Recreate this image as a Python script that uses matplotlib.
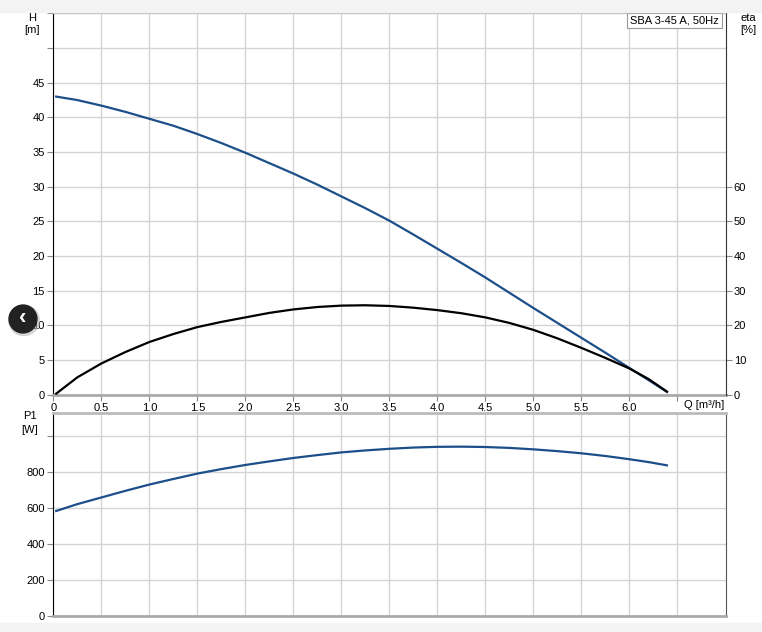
import matplotlib
matplotlib.use("Agg")
import matplotlib.pyplot as plt
from matplotlib.patches import Rectangle, Circle

plt.rcParams["font.family"] = ["Liberation Sans", "DejaVu Sans"]
plt.rcParams["font.size"] = 8

# pump curves SBA 3-45 A, 50Hz
q = [0.03, 0.25, 0.5, 0.75, 1.0, 1.25, 1.5, 1.75, 2.0, 2.25, 2.5, 2.75, 3.0, 3.25,
     3.5, 3.75, 4.0, 4.25, 4.5, 4.75, 5.0, 5.25, 5.5, 5.75, 6.0, 6.2, 6.39]
head = [43.0, 42.5, 41.7, 40.8, 39.8, 38.8, 37.6, 36.3, 34.9, 33.4, 31.9, 30.3, 28.6, 26.9,
        25.1, 23.1, 21.05, 19.0, 16.9, 14.7, 12.5, 10.35, 8.2, 6.05, 3.85, 2.1, 0.4]
eta = [0.3, 5.0, 9.0, 12.3, 15.2, 17.5, 19.5, 21.0, 22.3, 23.6, 24.6, 25.3, 25.7, 25.8,
       25.6, 25.1, 24.4, 23.5, 22.3, 20.7, 18.7, 16.25, 13.5, 10.6, 7.55, 4.5, 0.9]
p1 = [583, 621, 658, 695, 730, 761, 791, 816, 839, 859, 878, 894, 909, 920,
      929, 936, 940, 941, 939, 934, 926, 916, 904, 889, 871, 855, 837]

q_ticks = [0, 0.5, 1.0, 1.5, 2.0, 2.5, 3.0, 3.5, 4.0, 4.5, 5.0, 5.5, 6.0, 6.5]
q_labels = ["0", "0.5", "1.0", "1.5", "2.0", "2.5", "3.0", "3.5", "4.0", "4.5", "5.0", "5.5", "6.0", ""]
h_ticks = [0, 5, 10, 15, 20, 25, 30, 35, 40, 45, 50, 55]
h_labels = ["0", "5", "10", "15", "20", "25", "30", "35", "40", "45", "", ""]
eta_ticks = [0, 10, 20, 30, 40, 50, 60]
p_ticks = [0, 200, 400, 600, 800, 1000]
p_labels = ["0", "200", "400", "600", "800", ""]

W, H = 762, 632
blue = "#1c4f8a"
grid_c = "#d4d4d4"
tick_c = "#888888"

fig = plt.figure(figsize=(W / 100, H / 100), dpi=100)
fig.patch.set_facecolor("white")

# page strips
fig.patches.append(Rectangle((0, 1 - 12 / H), 1, 12 / H, transform=fig.transFigure,
                             color="#f3f3f3", zorder=0))
fig.patches.append(Rectangle((0, 0), 1, 9 / H, transform=fig.transFigure,
                             color="#f3f3f3", zorder=0))


def box(x0, y0, x1, y1):
    return [x0 / W, 1 - y1 / H, (x1 - x0) / W, (y1 - y0) / H]


ax = fig.add_axes(box(53.3, 13.4, 725.5, 394.7))
ax.plot(q, head, color=blue, lw=1.6, zorder=3)
ax.set_xlim(0, 7)
ax.set_ylim(0, 55)
ax.set_xticks(q_ticks)
ax.set_xticklabels(q_labels)
ax.set_yticks(h_ticks)
ax.set_yticklabels(h_labels)
ax.grid(True, color=grid_c, lw=1)
ax.tick_params(length=4, color=tick_c, labelsize=8, pad=2)
ax.spines["left"].set_color("black")
ax.spines["bottom"].set_color("#aaaaaa")
ax.spines["bottom"].set_linewidth(2)
ax.spines["top"].set_color("#bbbbbb")
ax.spines["right"].set_visible(False)

ax2 = ax.twinx()
ax2.plot(q, eta, color="black", lw=1.6, zorder=3)
ax2.set_ylim(0, 110)
ax2.set_yticks(eta_ticks)
ax2.tick_params(length=4, color=tick_c, labelsize=8, pad=2)
for s in ["left", "top", "bottom"]:
    ax2.spines[s].set_visible(False)
ax2.spines["right"].set_color("#333333")

ax.text(0.99, 0.995, "SBA 3-45 A, 50Hz", transform=ax.transAxes, ha="right", va="top",
        fontsize=8, zorder=5,
        bbox=dict(boxstyle="square,pad=0.25", fc="white", ec="#999999", lw=0.8))

fig.text(32 / W, 1 - 18 / H, "H", ha="center", va="center", fontsize=8)
fig.text(32 / W, 1 - 30 / H, "[m]", ha="center", va="center", fontsize=8)
fig.text(748 / W, 1 - 18 / H, "eta", ha="center", va="center", fontsize=8)
fig.text(748 / W, 1 - 30 / H, "[%]", ha="center", va="center", fontsize=8)
fig.text(704 / W, 1 - 405 / H, "Q [m³/h]", ha="center", va="center", fontsize=8)

bx = fig.add_axes(box(53.3, 412.7, 725.5, 615.7))
bx.plot(q, p1, color=blue, lw=1.6, zorder=3)
bx.set_xlim(0, 7)
bx.set_ylim(0, 1130)
bx.set_xticks(q_ticks)
bx.set_xticklabels([])
bx.set_yticks(p_ticks)
bx.set_yticklabels(p_labels)
bx.grid(True, color=grid_c, lw=1)
bx.tick_params(axis="y", length=4, color=tick_c, labelsize=8, pad=2)
bx.tick_params(axis="x", length=0)
bx.spines["left"].set_color("black")
bx.spines["bottom"].set_color("#aaaaaa")
bx.spines["bottom"].set_linewidth(2)
bx.spines["top"].set_color("#bbbbbb")
bx.spines["top"].set_linewidth(2)
bx.spines["right"].set_color("#555555")

fig.text(30 / W, 1 - 416 / H, "P1", ha="center", va="center", fontsize=8)
fig.text(30 / W, 1 - 430 / H, "[W]", ha="center", va="center", fontsize=8)

# side navigation button
circ_ax = fig.add_axes(box(6, 302, 40, 336))
circ_ax.set_xlim(-1, 1)
circ_ax.set_ylim(-1, 1)
circ_ax.axis("off")
circ_ax.add_patch(Circle((0.06, -0.08), 0.9, color="#bbbbbb", alpha=0.5))
circ_ax.add_patch(Circle((0, 0), 0.82, color="#222222"))
circ_ax.text(-0.02, 0.02, "‹", color="white", ha="center", va="center",
             fontsize=16, fontweight="bold")

fig.savefig("out.png", dpi=100)
